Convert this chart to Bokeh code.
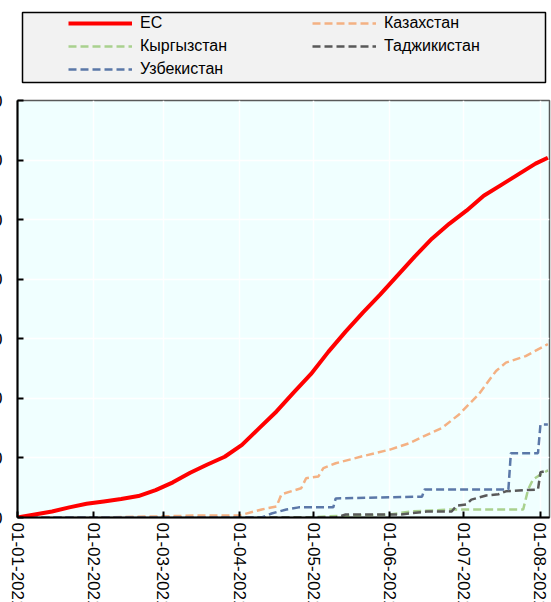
import math
import pandas as pd
from bokeh.plotting import figure
from bokeh.models import Range1d, FixedTicker, DatetimeTickFormatter, Legend, LegendItem
from bokeh.layouts import column
from bokeh.embed import file_html
from bokeh.resources import INLINE

# ---------------- data ----------------
eu_dates = ["2021-01-01", "2021-01-08", "2021-01-15", "2021-01-22", "2021-01-29",
            "2021-02-05", "2021-02-12", "2021-02-19", "2021-02-26",
            "2021-03-05", "2021-03-12", "2021-03-19", "2021-03-26",
            "2021-04-02", "2021-04-09", "2021-04-16", "2021-04-23", "2021-04-30",
            "2021-05-07", "2021-05-14", "2021-05-21", "2021-05-28",
            "2021-06-04", "2021-06-11", "2021-06-18", "2021-06-25",
            "2021-07-02", "2021-07-09", "2021-07-16", "2021-07-23", "2021-07-30",
            "2021-08-04"]
eu_values = [0, 0.5, 1.0, 1.7, 2.3,
             2.7, 3.1, 3.6, 4.6,
             5.9, 7.5, 8.9, 10.2,
             12.2, 15.0, 17.8, 21.0, 24.1,
             27.8, 31.2, 34.4, 37.4,
             40.6, 43.8, 46.8, 49.3,
             51.5, 54.0, 55.8, 57.6, 59.4,
             60.4]

kz_dates = ["2021-01-01", "2021-02-01", "2021-03-01", "2021-03-16", "2021-04-01",
            "2021-04-10", "2021-04-16", "2021-04-18", "2021-04-26", "2021-04-28",
            "2021-05-03", "2021-05-05", "2021-05-10", "2021-05-21", "2021-06-01",
            "2021-06-09", "2021-06-14", "2021-06-22", "2021-06-29", "2021-07-07",
            "2021-07-14", "2021-07-18", "2021-07-26", "2021-08-04"]
kz_values = [0, 0, 0.2, 0.34, 0.34,
             1.35, 1.85, 3.9, 4.9, 6.6,
             6.9, 8.3, 9.1, 10.3, 11.4,
             12.5, 13.5, 15.0, 17.3, 20.7,
             24.6, 26.0, 27.1, 29.1]

kg_dates = ["2021-01-01", "2021-04-28", "2021-05-07", "2021-06-01", "2021-06-09",
            "2021-06-26", "2021-07-25", "2021-07-27", "2021-07-29", "2021-08-01",
            "2021-08-04"]
kg_values = [0, 0, 0.2, 0.5, 1.0,
             1.35, 1.35, 4.7, 6.4, 7.2,
             7.9]

tj_dates = ["2021-01-01", "2021-05-10", "2021-05-14", "2021-06-05", "2021-06-16",
            "2021-06-26", "2021-06-28", "2021-07-02", "2021-07-04", "2021-07-10",
            "2021-07-15", "2021-07-18", "2021-07-31", "2021-08-01", "2021-08-04"]
tj_values = [0, 0, 0.5, 0.5, 1.0,
             1.0, 2.0, 2.2, 3.0, 3.7,
             3.9, 4.4, 4.7, 7.6, 7.9]

uz_dates = ["2021-01-01", "2021-04-10", "2021-04-14", "2021-04-20", "2021-04-25",
            "2021-05-09", "2021-05-10", "2021-06-14", "2021-06-15", "2021-07-19",
            "2021-07-20", "2021-07-31", "2021-08-01", "2021-08-04"]
uz_values = [0, 0, 0.67, 1.35, 1.7,
             1.7, 3.2, 3.5, 4.7, 4.7,
             10.8, 10.8, 15.6, 15.6]

month_ticks = ["2021-01-01", "2021-02-01", "2021-03-01", "2021-04-01",
               "2021-05-01", "2021-06-01", "2021-07-01", "2021-08-01"]
y_ticks = [0, 10, 20, 30, 40, 50, 60, 70]

# ---------------- styles ----------------
FONT = "Liberation Sans"
C_EU, C_KZ, C_KG, C_TJ, C_UZ = "#FF0000", "#F4B183", "#A9D18E", "#595959", "#5B78A8"
DASH = "8 4"
MAIN_W = 571


def ms(d):
    return pd.Timestamp(d).value // 10**6


# ---------------- main chart ----------------
p = figure(width=MAIN_W, height=520, x_axis_type="datetime",
           output_backend="svg", toolbar_location=None,
           x_range=Range1d(ms("2021-01-01"), ms("2021-08-04 16:00")),
           y_range=Range1d(0, 70),
           min_border_left=0, min_border_right=2, min_border_top=8, min_border_bottom=0)
p.frame_align = False
# the original picture is cropped on the left: shift the canvas so the y labels are cut
p.styles = {"transform": "translateX(-20px)"}
p.background_fill_color = "#F0FFFF"
p.border_fill_color = "white"
p.outline_line_color = "#595959"
p.outline_line_width = 1.5

specs = [
    (kg_dates, kg_values, C_KG, DASH, 2.5),
    (tj_dates, tj_values, C_TJ, DASH, 2.5),
    (kz_dates, kz_values, C_KZ, DASH, 2.5),
    (uz_dates, uz_values, C_UZ, DASH, 2.5),
    (eu_dates, eu_values, C_EU, "solid", 4),
]
for d, v, c, dash, w in specs:
    p.line(pd.to_datetime(d), v, line_color=c, line_width=w, line_dash=dash)

p.xaxis.ticker = FixedTicker(ticks=[ms(t) for t in month_ticks])
fmt = "%d-%m-%Y"
p.xaxis.formatter = DatetimeTickFormatter(milliseconds=fmt, seconds=fmt, minsec=fmt, minutes=fmt,
                                          hourmin=fmt, hours=fmt, days=fmt, months=fmt, years=fmt)
p.xaxis.major_label_orientation = -math.pi / 2
p.xaxis.major_label_standoff = 5

p.yaxis.ticker = FixedTicker(ticks=y_ticks)
p.yaxis.major_label_standoff = 15

for ax in (p.xaxis, p.yaxis):
    ax.major_label_text_font = FONT
    ax.major_label_text_font_size = "17px"
    ax.major_label_text_color = "black"
    ax.axis_line_color = "black"
    ax.axis_line_width = 2
    ax.major_tick_line_color = "black"
    ax.major_tick_line_width = 2
    ax.major_tick_in = 6
    ax.major_tick_out = 0
    ax.minor_tick_line_color = None

p.xgrid.grid_line_color = "white"
p.xgrid.grid_line_width = 1.5
p.ygrid.grid_line_color = "white"
p.ygrid.grid_line_width = 1.5

# ---------------- legend panel ----------------
lf = figure(width=551, height=92, output_backend="svg", toolbar_location=None,
            x_range=Range1d(0, 1), y_range=Range1d(0, 1),
            x_axis_location=None, y_axis_location=None,
            min_border_left=22, min_border_right=6,
            min_border_top=12, min_border_bottom=10)
lf.frame_align = False
lf.background_fill_color = "#F2F2F2"
lf.border_fill_color = "white"
lf.outline_line_color = "black"
lf.outline_line_width = 1.5
lf.grid.visible = False

# column-major order: left column ЕС / Кыргызстан / Узбекистан, right column Казахстан / Таджикистан
leg_specs = [
    ("ЕС", C_EU, "solid", 4),
    ("Кыргызстан", C_KG, DASH, 2.5),
    ("Узбекистан", C_UZ, DASH, 2.5),
    ("Казахстан", C_KZ, DASH, 2.5),
    ("Таджикистан", C_TJ, DASH, 2.5),
]
items = []
for name, c, dash, w in leg_specs:
    r = lf.line([5, 6], [5, 6], line_color=c, line_width=w, line_dash=dash)
    items.append(LegendItem(label=name, renderers=[r]))

legend = Legend(items=items, location=(46, 3), orientation="vertical", ncols=2,
                padding=0, margin=0, spacing=3,
                glyph_width=64, glyph_height=20, label_width=169, label_height=20,
                label_standoff=8, label_text_font=FONT, label_text_font_size="16px",
                label_text_color="black",
                background_fill_alpha=0, border_line_alpha=0)
lf.add_layout(legend)

layout = column(lf, p, width=MAIN_W, height=602, styles={"overflow": "hidden"})

open("out.html", "w").write(file_html(layout, INLINE))
